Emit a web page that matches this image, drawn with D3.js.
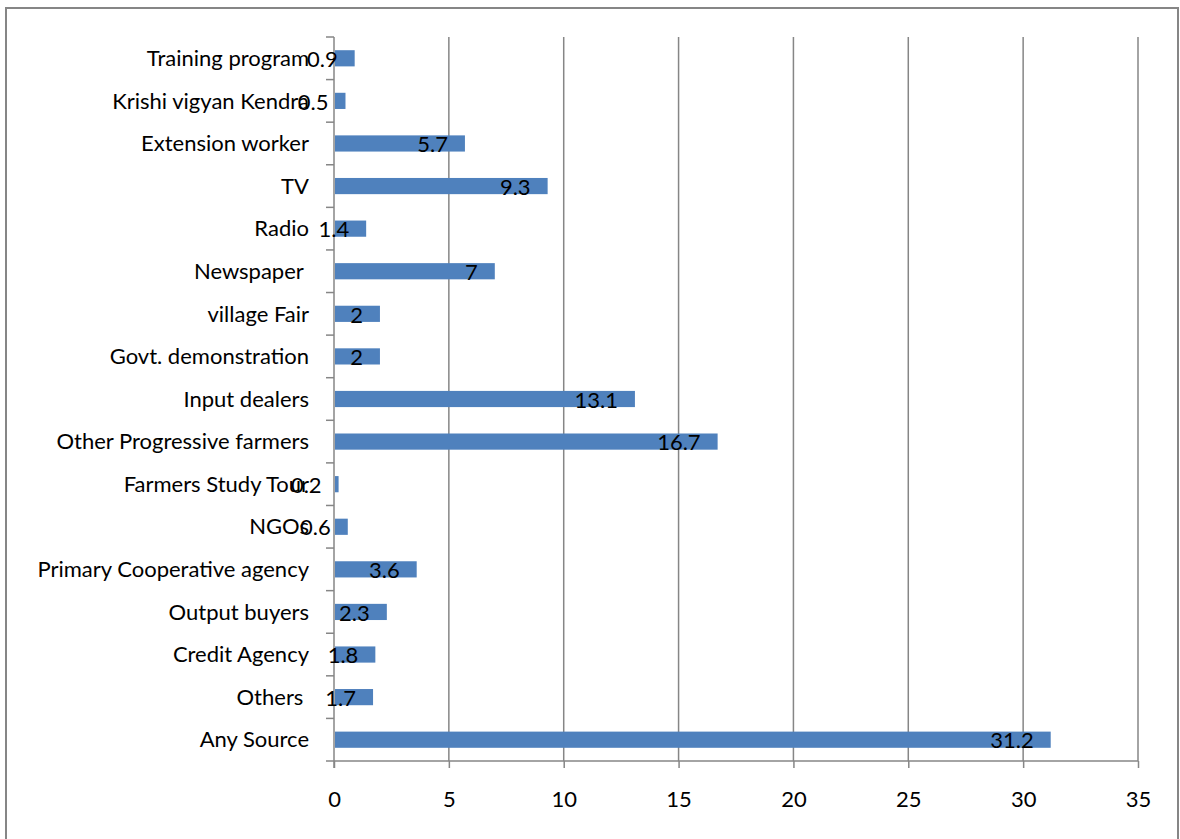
<!DOCTYPE html>
<html><head><meta charset="utf-8">
<script src="https://cdn.jsdelivr.net/npm/d3@7"></script>
<style>
html,body{margin:0;padding:0;background:#fff;}
svg{display:block;}
text{font-family:Lato, "Open Sans", sans-serif;fill:#000;}
</style></head>
<body>
<svg id="chart" width="1180" height="839"></svg>
<script>
const categories = ["Training program","Krishi vigyan Kendra","Extension worker","TV","Radio","Newspaper ","village Fair","Govt. demonstration","Input dealers","Other Progressive farmers","Farmers Study Tour","NGOs","Primary Cooperative agency","Output buyers","Credit Agency","Others ","Any Source"];
const values = [0.9,0.5,5.7,9.3,1.4,7,2,2,13.1,16.7,0.2,0.6,3.6,2.3,1.8,1.7,31.2];
const xTicks = [0,5,10,15,20,25,30,35];

const svg = d3.select("#chart");
const m = {left:334, right:1138, top:37, bottom:761};
const grey = "#868686";
const barColor = "#4F81BD";
const fs = 22;

// outer border
svg.append("rect").attr("x",6).attr("y",8).attr("width",1172).attr("height",860)
  .attr("fill","#fff").attr("stroke",grey).attr("stroke-width",2);

const x = d3.scaleLinear().domain([0,35]).range([m.left,m.right]);
const y = d3.scaleBand().domain(categories).range([m.top,m.bottom]).paddingInner(0.62).paddingOuter(0.31);
const yb = d3.scaleBand().domain(categories).range([m.top,m.bottom]);

// gridlines
svg.append("g").selectAll("line").data(xTicks.slice(1)).join("line")
  .attr("x1",d=>x(d)).attr("x2",d=>x(d)).attr("y1",m.top).attr("y2",m.bottom)
  .attr("stroke",grey).attr("stroke-width",1.5);

// x axis
const xAxis = svg.append("g").attr("transform",`translate(0,${m.bottom})`)
  .call(d3.axisBottom(x).tickValues(xTicks).tickSize(7).tickPadding(23).tickSizeOuter(0));
xAxis.select(".domain").remove();
xAxis.selectAll("line").attr("stroke",grey).attr("stroke-width",1.5);
xAxis.selectAll("text").style("font-size",fs+"px").style("font-family","Lato, sans-serif").attr("fill","#000");
svg.append("line").attr("x1",m.left-8).attr("x2",m.right).attr("y1",m.bottom).attr("y2",m.bottom)
  .attr("stroke",grey).attr("stroke-width",1.5);

// y axis line and boundary ticks
svg.append("line").attr("x1",m.left).attr("x2",m.left).attr("y1",m.top).attr("y2",m.bottom+7)
  .attr("stroke",grey).attr("stroke-width",1.5);
svg.append("g").selectAll("line").data(categories).join("line")
  .attr("x1",m.left-8).attr("x2",m.left).attr("y1",d=>yb(d)).attr("y2",d=>yb(d))
  .attr("stroke",grey).attr("stroke-width",1.5);

// bars
svg.append("g").selectAll("rect").data(values).join("rect")
  .attr("x",x(0)+1).attr("y",(d,i)=>y(categories[i]))
  .attr("width",d=>x(d)-x(0)-1).attr("height",y.bandwidth())
  .attr("fill",barColor);

// category labels
svg.append("g").selectAll("text").data(categories).join("text")
  .attr("x",309).attr("y",d=>yb(d)+yb.bandwidth()/2)
  .attr("text-anchor","end").attr("dy","0.35em").style("font-size",fs+"px")
  .style("white-space","pre").text(d=>d);

// value labels
svg.append("g").selectAll("text").data(values).join("text")
  .attr("x",d=>x(d)-17).attr("y",(d,i)=>yb(categories[i])+yb.bandwidth()/2+1)
  .attr("text-anchor","end").attr("dy","0.35em").style("font-size",fs+"px")
  .text(d=>d);
</script>
</body></html>
